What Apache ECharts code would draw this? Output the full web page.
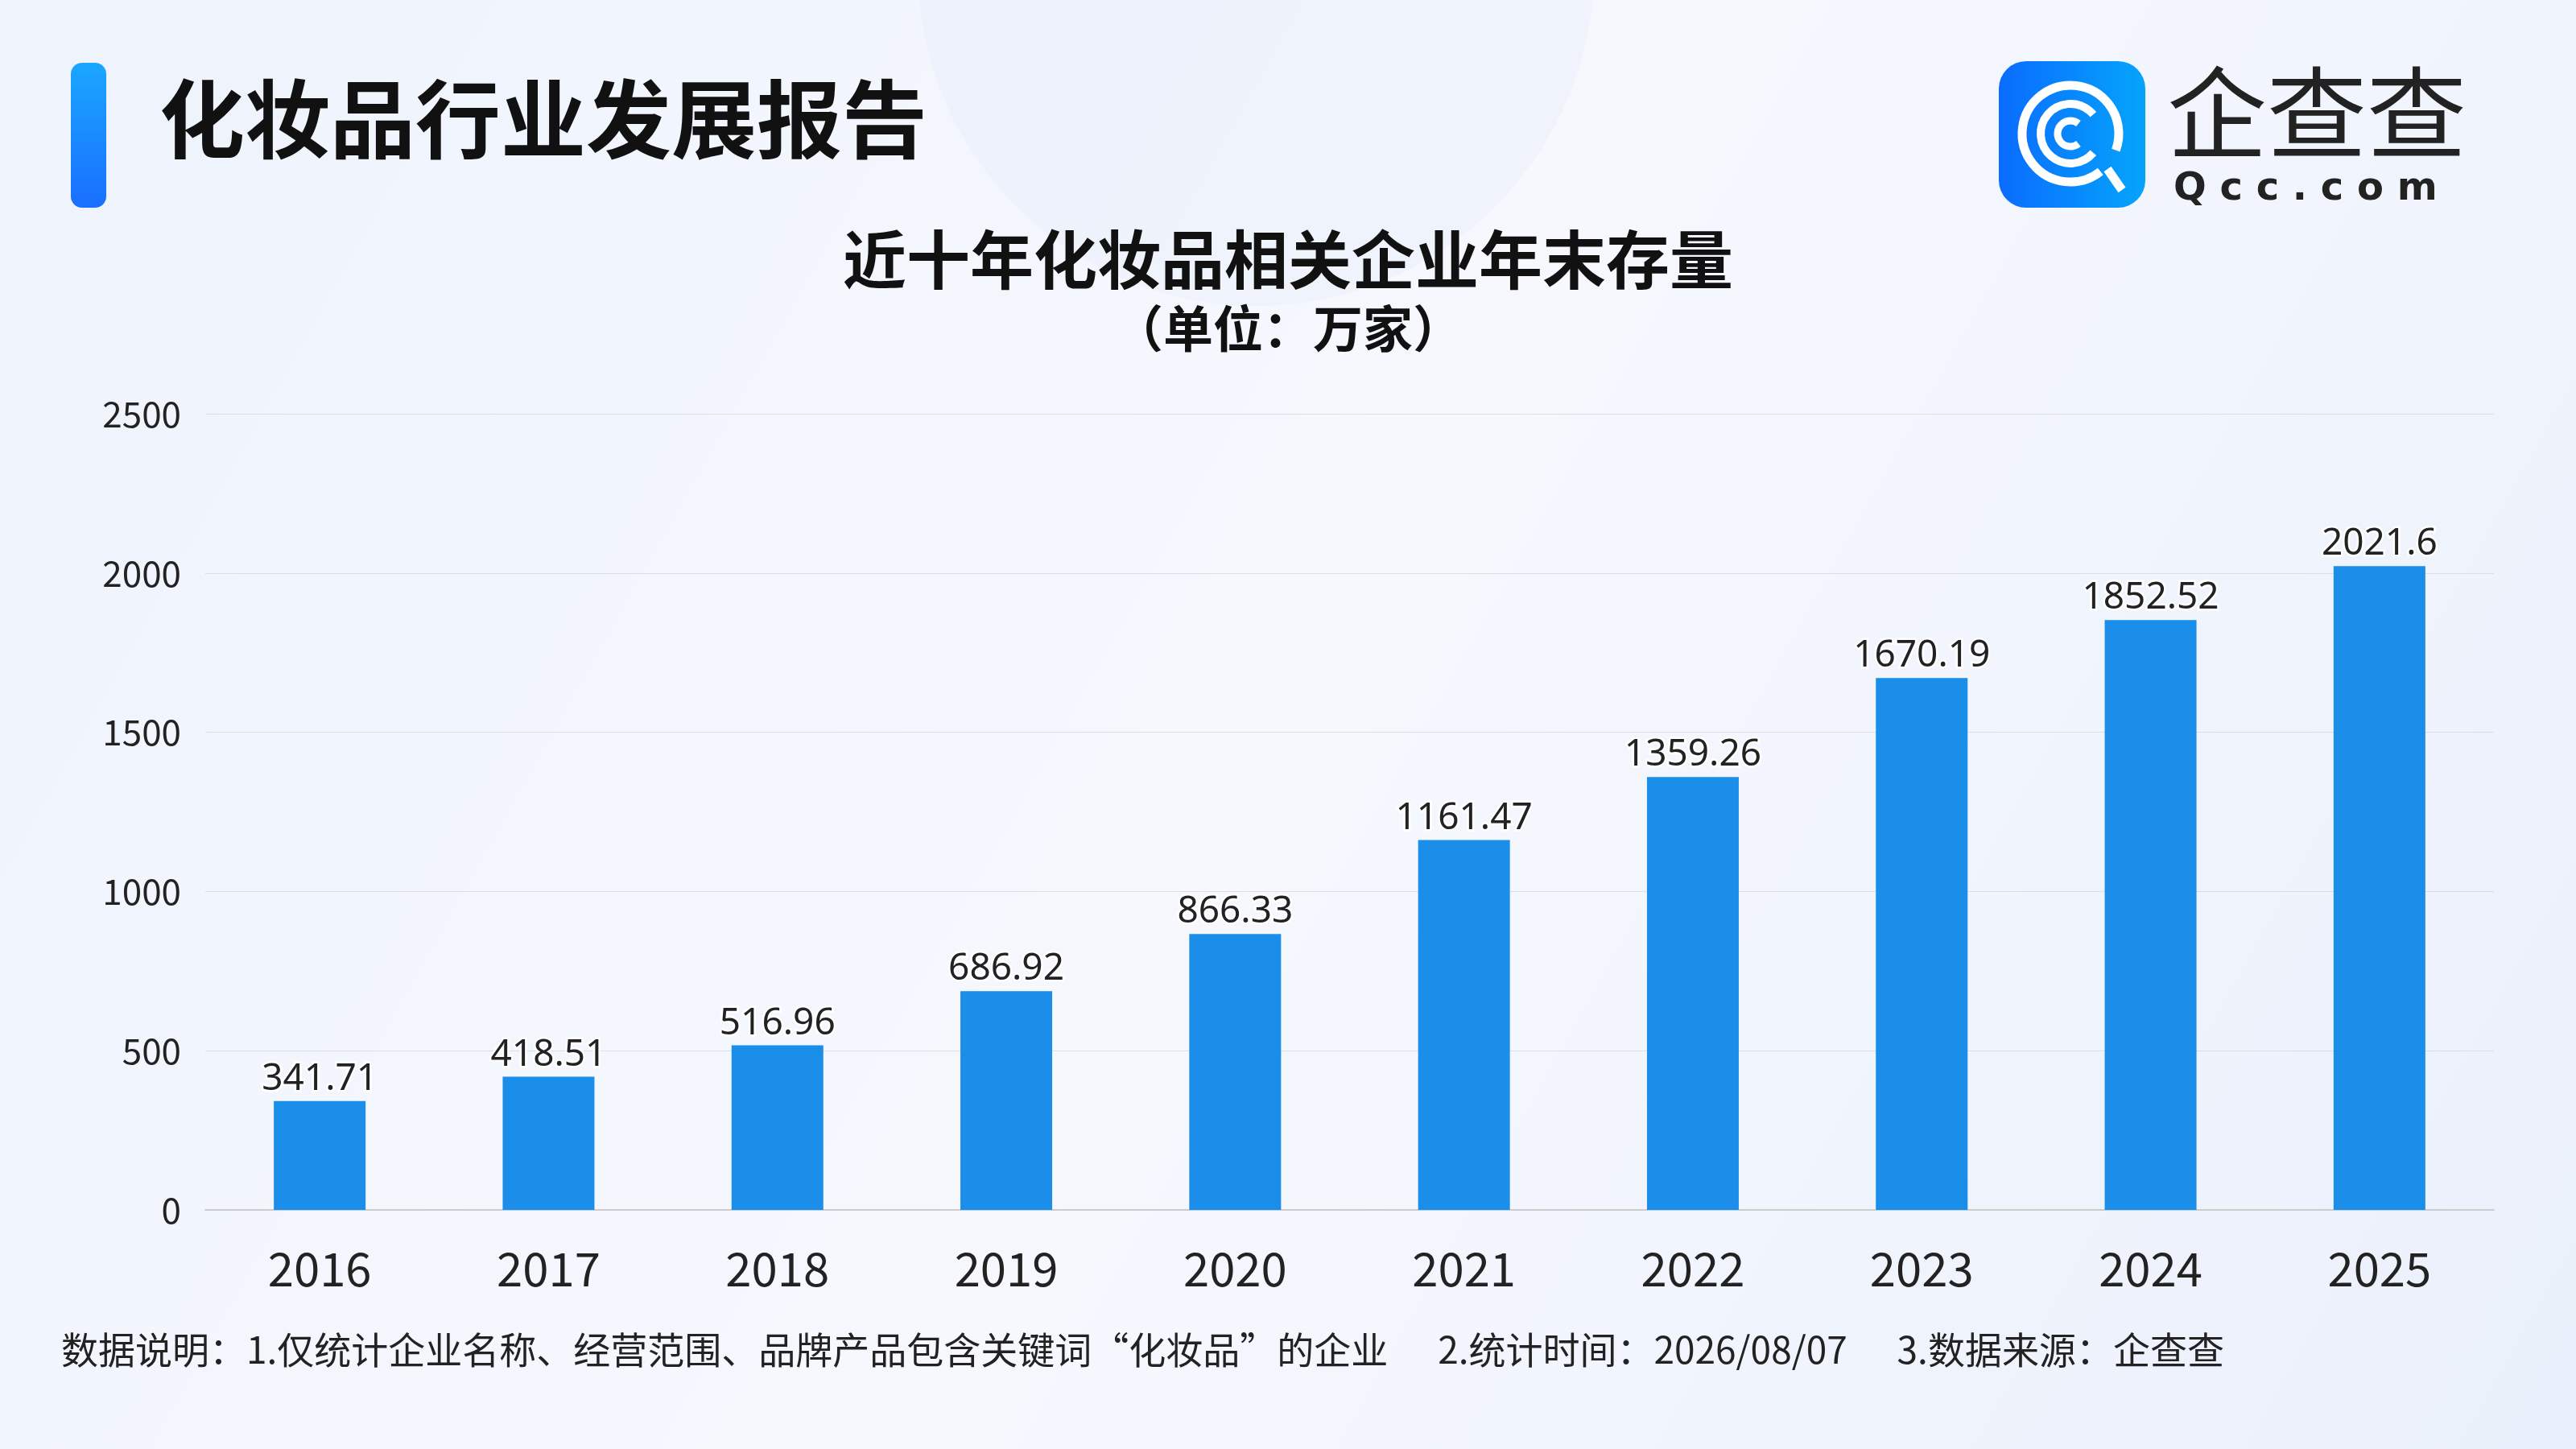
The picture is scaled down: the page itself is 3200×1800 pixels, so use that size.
<!DOCTYPE html>
<html><head><meta charset="utf-8">
<script src="https://cdn.jsdelivr.net/npm/echarts@6/dist/echarts.min.js"></script>
<style>html,body{margin:0;padding:0;}#c{width:3200px;height:1800px;}</style>
</head><body><div id="c"></div>
<script>
const years=['2016','2017','2018','2019','2020','2021','2022','2023','2024','2025'];
const counts=[341.71,418.51,516.96,686.92,866.33,1161.47,1359.26,1670.19,1852.52,2021.6];
const yTicks={min:0,max:2500,interval:500};
const F='"Noto Sans CJK SC","Noto Sans",sans-serif';
const chart=echarts.init(document.getElementById('c'));
chart.setOption({
 backgroundColor:{type:'linear',x:0,y:0,x2:1,y2:1,colorStops:[{offset:0,color:'#eef3fc'},{offset:0.5,color:'#f6f8fe'},{offset:1,color:'#eaf0fb'}]},
 title:[{text:'近十年化妆品相关企业年末存量',left:'center',top:278,textStyle:{fontFamily:F,fontSize:79,fontWeight:'bold',color:'#111'}},
        {text:'（单位：万家）',left:'center',top:372,textStyle:{fontFamily:F,fontSize:62,fontWeight:'bold',color:'#111'}}],
 grid:{left:255,right:102,top:514,bottom:297},
 xAxis:{type:'category',data:years,axisTick:{show:false},axisLine:{lineStyle:{color:'#ccc',width:2}},
   axisLabel:{fontFamily:F,fontSize:58,color:'#222',margin:44}},
 yAxis:{type:'value',min:yTicks.min,max:yTicks.max,interval:yTicks.interval,
   axisLabel:{fontFamily:F,fontSize:44,color:'#222',margin:30,formatter:v=>String(v)}},
 series:[{type:'bar',data:counts,barWidth:114,itemStyle:{color:'#1a8ee9'},
   label:{show:true,position:'top',distance:4,fontFamily:'"Noto Sans",sans-serif',fontSize:46,color:'#222',textBorderColor:'#fff',textBorderWidth:5}}],
 graphic:[
  {type:'circle',shape:{cx:1560,cy:-40,r:420},style:{fill:'rgba(228,234,250,0.35)'},z:-1},
  {type:'rect',shape:{x:88,y:78,width:44,height:180,r:14},style:{fill:{type:'linear',x:0,y:0,x2:0,y2:1,colorStops:[{offset:0,color:'#1aa6ff'},{offset:1,color:'#1a6fff'}]}}},
  {type:'text',left:198,top:95,style:{text:'化妆品行业发展报告',fontFamily:F,fontSize:106,fontWeight:'bold',fill:'#111'}},
  {type:'rect',shape:{x:2483,y:76,width:182,height:182,r:34},style:{fill:{type:'linear',x:0,y:0,x2:1,y2:0,colorStops:[{offset:0,color:'#0a6cff'},{offset:1,color:'#05a4fb'}]}}},
  {type:'arc',shape:{cx:2572,cy:166,r:60,startAngle:0.9,endAngle:0.55+Math.PI*2-0.2},style:{stroke:'#fff',lineWidth:11,fill:null}},
  {type:'arc',shape:{cx:2572,cy:166,r:37,startAngle:0.7,endAngle:Math.PI*2-0.7},style:{stroke:'#fff',lineWidth:10,fill:null}},
  {type:'arc',shape:{cx:2572,cy:166,r:16,startAngle:0.9,endAngle:Math.PI*2-0.9},style:{stroke:'#fff',lineWidth:9,fill:null}},
  {type:'line',shape:{x1:2618,y1:210,x2:2636,y2:236},style:{stroke:'#fff',lineWidth:11}},
  {type:'text',left:2692,top:78,style:{text:'企查查',fontFamily:F,fontSize:124,fill:'#222'}},
  {type:'text',left:2700,top:212,style:{text:'Q c c . c o m',fontFamily:'DejaVu Sans',fontSize:48,fontWeight:'bold',fill:'#222'}},
  {type:'text',left:76,top:1654,style:{text:'数据说明：1.仅统计企业名称、经营范围、品牌产品包含关键词“化妆品”的企业      2.统计时间：2026/08/07      3.数据来源：企查查',fontFamily:F,fontSize:46,fill:'#222'}}
 ]
});
</script></body></html>
